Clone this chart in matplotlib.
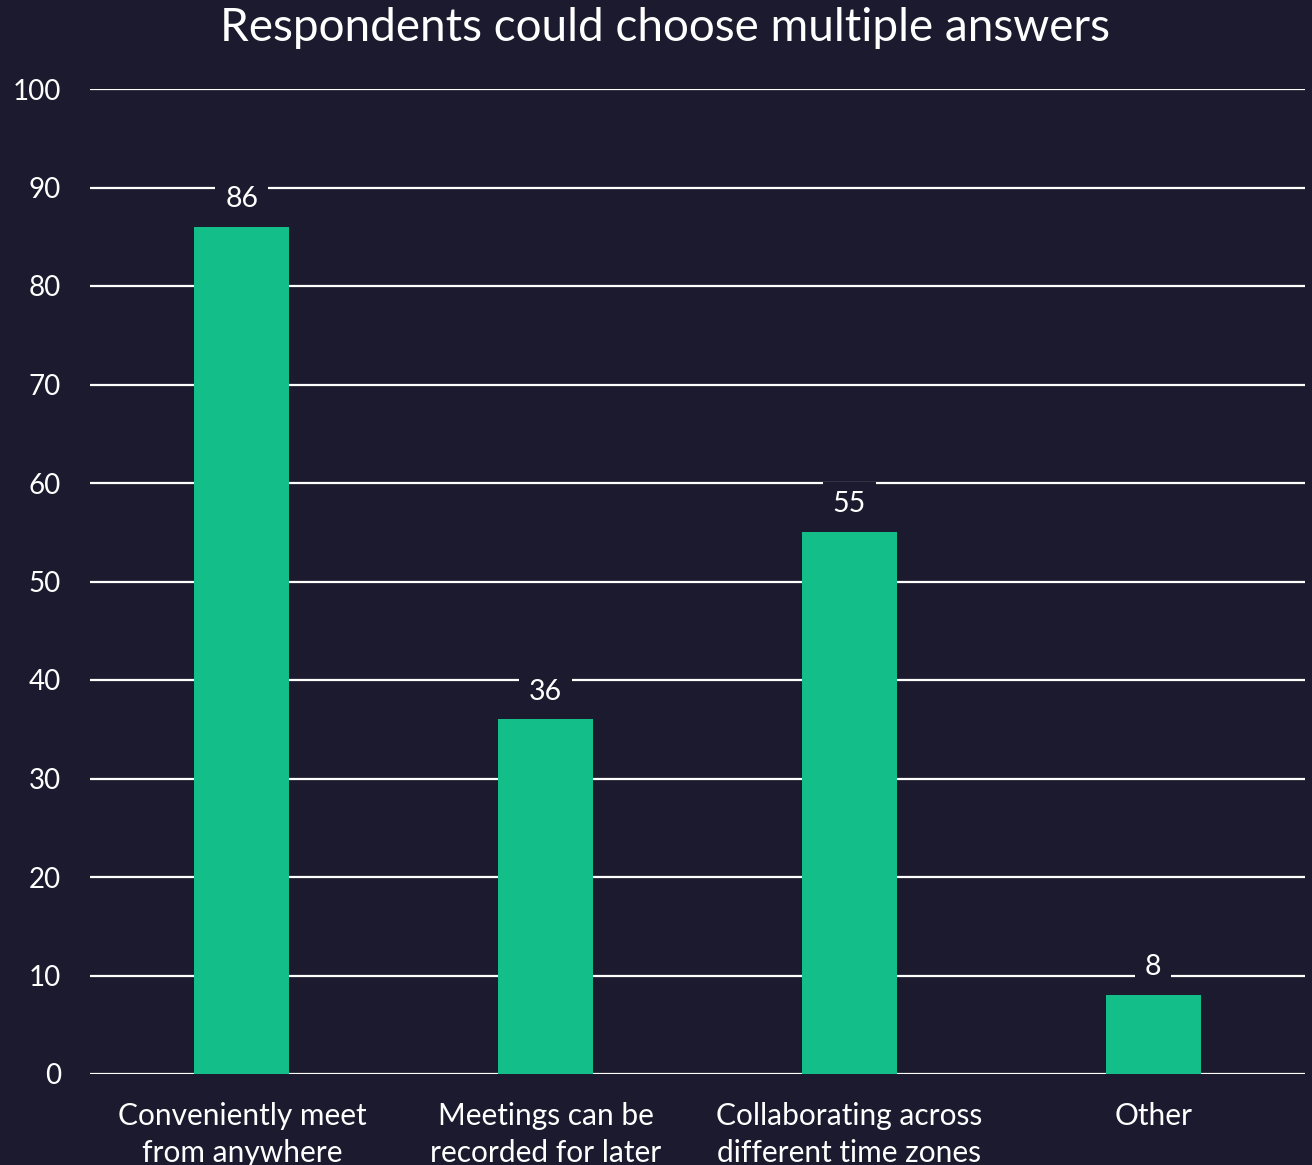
import matplotlib
matplotlib.use("Agg")
import matplotlib.pyplot as plt

categories = ["Conveniently meet\nfrom anywhere", "Meetings can be\nrecorded for later",
              "Collaborating across\ndifferent time zones", "Other"]
values = [86, 36, 55, 8]
yticks = [0, 10, 20, 30, 40, 50, 60, 70, 80, 90, 100]
title = "Respondents could choose multiple answers"

BG = "#1c1a2e"
BAR = "#14be89"
FONT = ["Lato", "DejaVu Sans"]
plt.rcParams["font.family"] = FONT

fig = plt.figure(figsize=(13.12, 11.65), dpi=100, facecolor=BG)
ax = fig.add_axes([90/1312, 91/1165, 1215/1312, 985/1165])
ax.set_facecolor(BG)

x = list(range(len(categories)))
ax.bar(x, values, width=0.3125, color=BAR, zorder=3)
ax.set_xlim(-0.5, 3.5)
ax.set_ylim(0, 100)
ax.set_yticks(yticks)
ax.set_yticklabels([str(t) for t in yticks])
ax.set_xticks(x)
ax.set_xticklabels(categories, linespacing=1.38)
for s in ax.spines.values():
    s.set_visible(False)
ax.yaxis.grid(True, color="white", linewidth=1.6, zorder=1)
ax.set_axisbelow(True)
ax.tick_params(axis="y", length=0, pad=21, labelsize=20, labelcolor="white")
ax.tick_params(axis="x", length=0, pad=20, labelsize=21.5, labelcolor="white")
for lbl in ax.get_xticklabels():
    lbl.set_verticalalignment("top")

for xi, v in zip(x, values):
    ax.annotate(str(v), (xi, v), xytext=(0, 20), textcoords="offset points",
                ha="center", va="center", color="white", fontsize=20.5, zorder=4,
                bbox=dict(boxstyle="square,pad=0.35", facecolor=BG, edgecolor="none"))

fig.text(665/1312, 1 - 28/1165, title, ha="center", va="center",
         color="white", fontsize=33)

fig.savefig("out.png", dpi=100, facecolor=BG)
